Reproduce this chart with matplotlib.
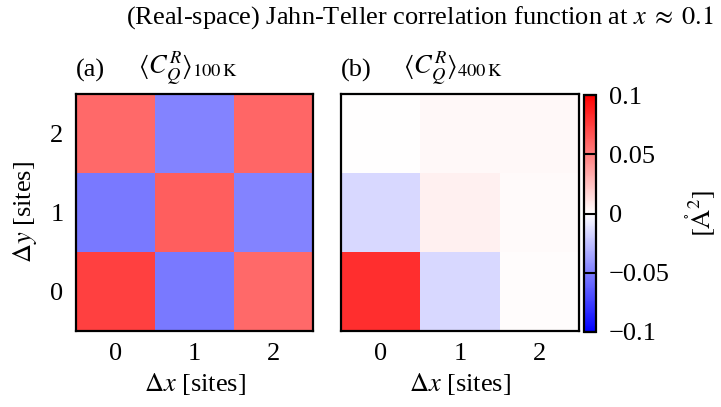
import numpy as np
import matplotlib
matplotlib.use('Agg')
import matplotlib.pyplot as plt

plt.rcParams['font.family'] = ['Liberation Serif', 'DejaVu Serif']
plt.rcParams['mathtext.fontset'] = 'stix'

# correlation values, rows = dy (0..2), cols = dx (0..2)
sites = [0, 1, 2]
corr_100K = [[0.075, -0.052, 0.058],
             [-0.052, 0.063, -0.048],
             [0.058, -0.048, 0.060]]
corr_400K = [[0.082, -0.015, 0.001],
             [-0.015, 0.006, 0.002],
             [0.000, 0.003, 0.003]]
cbar_ticks = [-0.1, -0.05, 0, 0.05, 0.1]
cbar_labels = ['\u22120.1', '\u22120.05', '0', '0.05', '0.1']

fig = plt.figure(figsize=(7.21, 4.07), dpi=100)
W, H = 721, 407


def box(x0, y0, x1, y1):
    return [x0 / W, 1 - y1 / H, (x1 - x0) / W, (y1 - y0) / H]


ax_a = fig.add_axes(box(76, 94, 313, 331))
ax_b = fig.add_axes(box(341, 94, 579, 331))
cax = fig.add_axes(box(584, 95, 596, 332))

fs = 19
for ax, data, lab, temp in [(ax_a, corr_100K, '(a)', '100'),
                            (ax_b, corr_400K, '(b)', '400')]:
    im = ax.imshow(np.array(data), cmap='bwr', vmin=-0.1, vmax=0.1,
                   origin='lower', aspect='auto')
    ax.set_xticks(sites)
    ax.set_yticks(sites)
    ax.tick_params(length=0, labelsize=fs, pad=9)
    ax.set_xlabel(r'$\Delta x$ [sites]', fontsize=fs, labelpad=4)
    for s in ax.spines.values():
        s.set_linewidth(1.6)
    ax.text(0.0, 1.05, lab, transform=ax.transAxes, fontsize=fs, ha='left', va='bottom')
    ax.text(0.26, 1.03, r'$\langle C_Q^R\rangle_{%s\,\mathrm{K}}$' % temp,
            transform=ax.transAxes, fontsize=fs, ha='left', va='bottom')

ax_a.set_ylabel(r'$\Delta y$ [sites]', fontsize=fs, labelpad=8)
ax_b.set_yticks([])

cb = fig.colorbar(im, cax=cax, ticks=cbar_ticks)
cb.ax.set_yticklabels(cbar_labels)
cb.ax.tick_params(labelsize=fs, direction='in', length=8.6, width=1.5, color='black', pad=9)
cb.outline.set_linewidth(1.6)
cb.set_label(r'$[\mathring{\mathrm{A}}^2]$', fontsize=fs, labelpad=10)

fig.text(420 / W, 1 - 4 / H,
         r'(Real-space) Jahn-Teller correlation function at $x\;\approx\;0.1$',
         ha='center', va='top', fontsize=fs)

fig.savefig('out.png', dpi=100)
